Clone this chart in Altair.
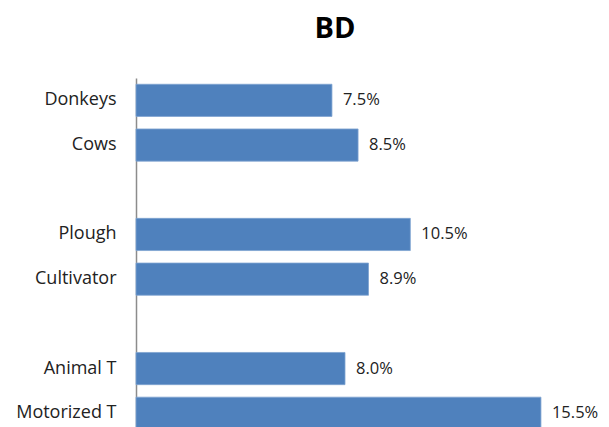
import altair as alt
import pandas as pd

categories = ["Donkeys", "Cows", "Plough", "Cultivator", "Animal T", "Motorized T"]
values = [7.5, 8.5, 10.5, 8.9, 8.0, 15.5]
row_order = ["Donkeys", "Cows", " ", "Plough", "Cultivator", "  ", "Animal T", "Motorized T"]

df = pd.DataFrame({"cat": categories, "val": values})
df["label"] = [f"{v:.1f}%" for v in values]

step = 44.7
y_scale = alt.Scale(domain=row_order, range=[0, step * 8], paddingInner=0.28, paddingOuter=0.14)
x_scale = alt.Scale(domain=[0, 16], nice=False)

base = alt.Chart(df)

bars = base.mark_bar(color="#4F81BD", stroke="#7FA3D0", strokeWidth=0.8).encode(
    x=alt.X("val:Q", scale=x_scale, axis=None),
    y=alt.Y("cat:N", scale=y_scale, sort=row_order,
            axis=alt.Axis(title=None, ticks=False, labelPadding=20, labelFontSize=18,
                          labelFont="Open Sans", labelColor="#222222",
                          domainColor="#8C8C8C", domainWidth=1.5, grid=False)),
)

texts = base.mark_text(align="left", baseline="middle", dx=11, fontSize=16.5,
                       font="Open Sans", color="#222222").encode(
    x=alt.X("val:Q", scale=x_scale),
    y=alt.Y("cat:N", scale=y_scale, sort=row_order),
    text="label:N",
)

chart = (bars + texts).properties(
    width=418,
    height=349,
    autosize=alt.AutoSizeParams(type="none"),
    padding={"left": 128, "top": 70, "right": 47, "bottom": 0},
    title=alt.TitleParams("BD", fontSize=29, font="Open Sans", fontWeight="bold",
                          color="#000000", offset=34, dx=-10, anchor="middle"),
).configure_view(stroke=None)

chart.save("out.html", embed_options={"renderer": "svg", "actions": False})
